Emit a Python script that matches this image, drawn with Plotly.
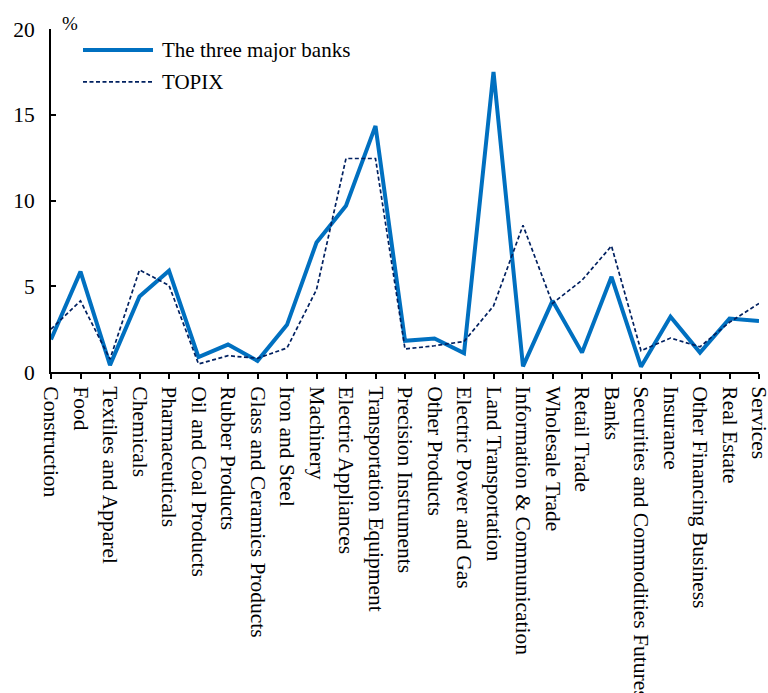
import plotly.graph_objects as go

categories = [
    "Construction", "Food", "Textiles and Apparel", "Chemicals", "Pharmaceuticals",
    "Oil and Coal Products", "Rubber Products", "Glass and Ceramics Products",
    "Iron and Steel", "Machinery", "Electric Appliances", "Transportation Equipment",
    "Precision Instruments", "Other Products", "Electric Power and Gas",
    "Land Transportation", "Information & Communication", "Wholesale Trade",
    "Retail Trade", "Banks", "Securities and Commodities Futures", "Insurance",
    "Other Financing Business", "Real Estate", "Services",
]
banks = [1.9, 5.85, 0.4, 4.4, 5.9, 0.87, 1.6, 0.65, 2.75, 7.55, 9.7, 14.35,
         1.82, 1.95, 1.1, 17.5, 0.33, 4.15, 1.13, 5.55, 0.31, 3.22, 1.13, 3.12, 2.98]
topix = [2.5, 4.15, 0.75, 5.95, 5.05, 0.47, 0.95, 0.8, 1.4, 4.8, 12.45, 12.45,
         1.34, 1.53, 1.78, 3.85, 8.55, 4.0, 5.35, 7.35, 1.24, 1.98, 1.47, 2.9, 4.0]
y_ticks = [0, 5, 10, 15, 20]

BLUE = "#0070C0"
NAVY = "#002060"
FONT = "Liberation Serif"

fig = go.Figure()
fig.add_trace(go.Scatter(x=categories, y=banks, mode="lines", name="The three major banks",
                         line=dict(color=BLUE, width=4), showlegend=False))
fig.add_trace(go.Scatter(x=categories, y=topix, mode="lines", name="TOPIX",
                         line=dict(color=NAVY, width=1.7, dash="4px,2.5px"), showlegend=False))

# manual legend (paper coordinates)
def px_x(p):
    return (p - 51) / 708.0

def px_y(p):
    return (372.5 - p) / 343.5

fig.add_shape(type="line", xref="paper", yref="paper", x0=px_x(83), x1=px_x(153),
              y0=px_y(50), y1=px_y(50), line=dict(color=BLUE, width=4))
fig.add_shape(type="line", xref="paper", yref="paper", x0=px_x(83), x1=px_x(153),
              y0=px_y(82), y1=px_y(82), line=dict(color=NAVY, width=1.7, dash="4px,2.5px"))
fig.add_annotation(xref="paper", yref="paper", x=px_x(160), y=px_y(50), text=fig.data[0].name,
                   showarrow=False, xanchor="left", yanchor="middle",
                   font=dict(family=FONT, size=21, color="black"))
fig.add_annotation(xref="paper", yref="paper", x=px_x(160), y=px_y(82), text=fig.data[1].name,
                   showarrow=False, xanchor="left", yanchor="middle",
                   font=dict(family=FONT, size=21, color="black"))
fig.add_annotation(xref="paper", yref="paper", x=px_x(70), y=px_y(23), text="%",
                   showarrow=False, xanchor="center", yanchor="middle",
                   font=dict(family=FONT, size=19, color="black"))

fig.update_layout(
    width=768, height=693,
    margin=dict(l=51, r=9, t=29, b=320.5),
    plot_bgcolor="white", paper_bgcolor="white",
    font=dict(family=FONT, size=21, color="black"),
)
fig.update_xaxes(
    type="category", range=[0, len(categories) - 1],
    tickmode="array", tickvals=categories, ticktext=categories,
    tickangle=90, ticks="outside", ticklen=5, tickwidth=1.5, tickcolor="black",
    showline=True, linecolor="black", linewidth=2, showgrid=False, zeroline=False,
    automargin=False, ticklabelstandoff=3,
    tickfont=dict(family=FONT, size=21.5, color="black"),
)
fig.update_yaxes(
    range=[0, 20], tickvals=y_ticks, ticks="inside", ticklen=5, tickwidth=1.5,
    tickcolor="black", showline=True, linecolor="black", linewidth=2,
    showgrid=False, zeroline=False, automargin=False, ticklabelstandoff=10,
    tickfont=dict(family=FONT, size=21.5, color="black"),
)

fig.write_html("out.html")
